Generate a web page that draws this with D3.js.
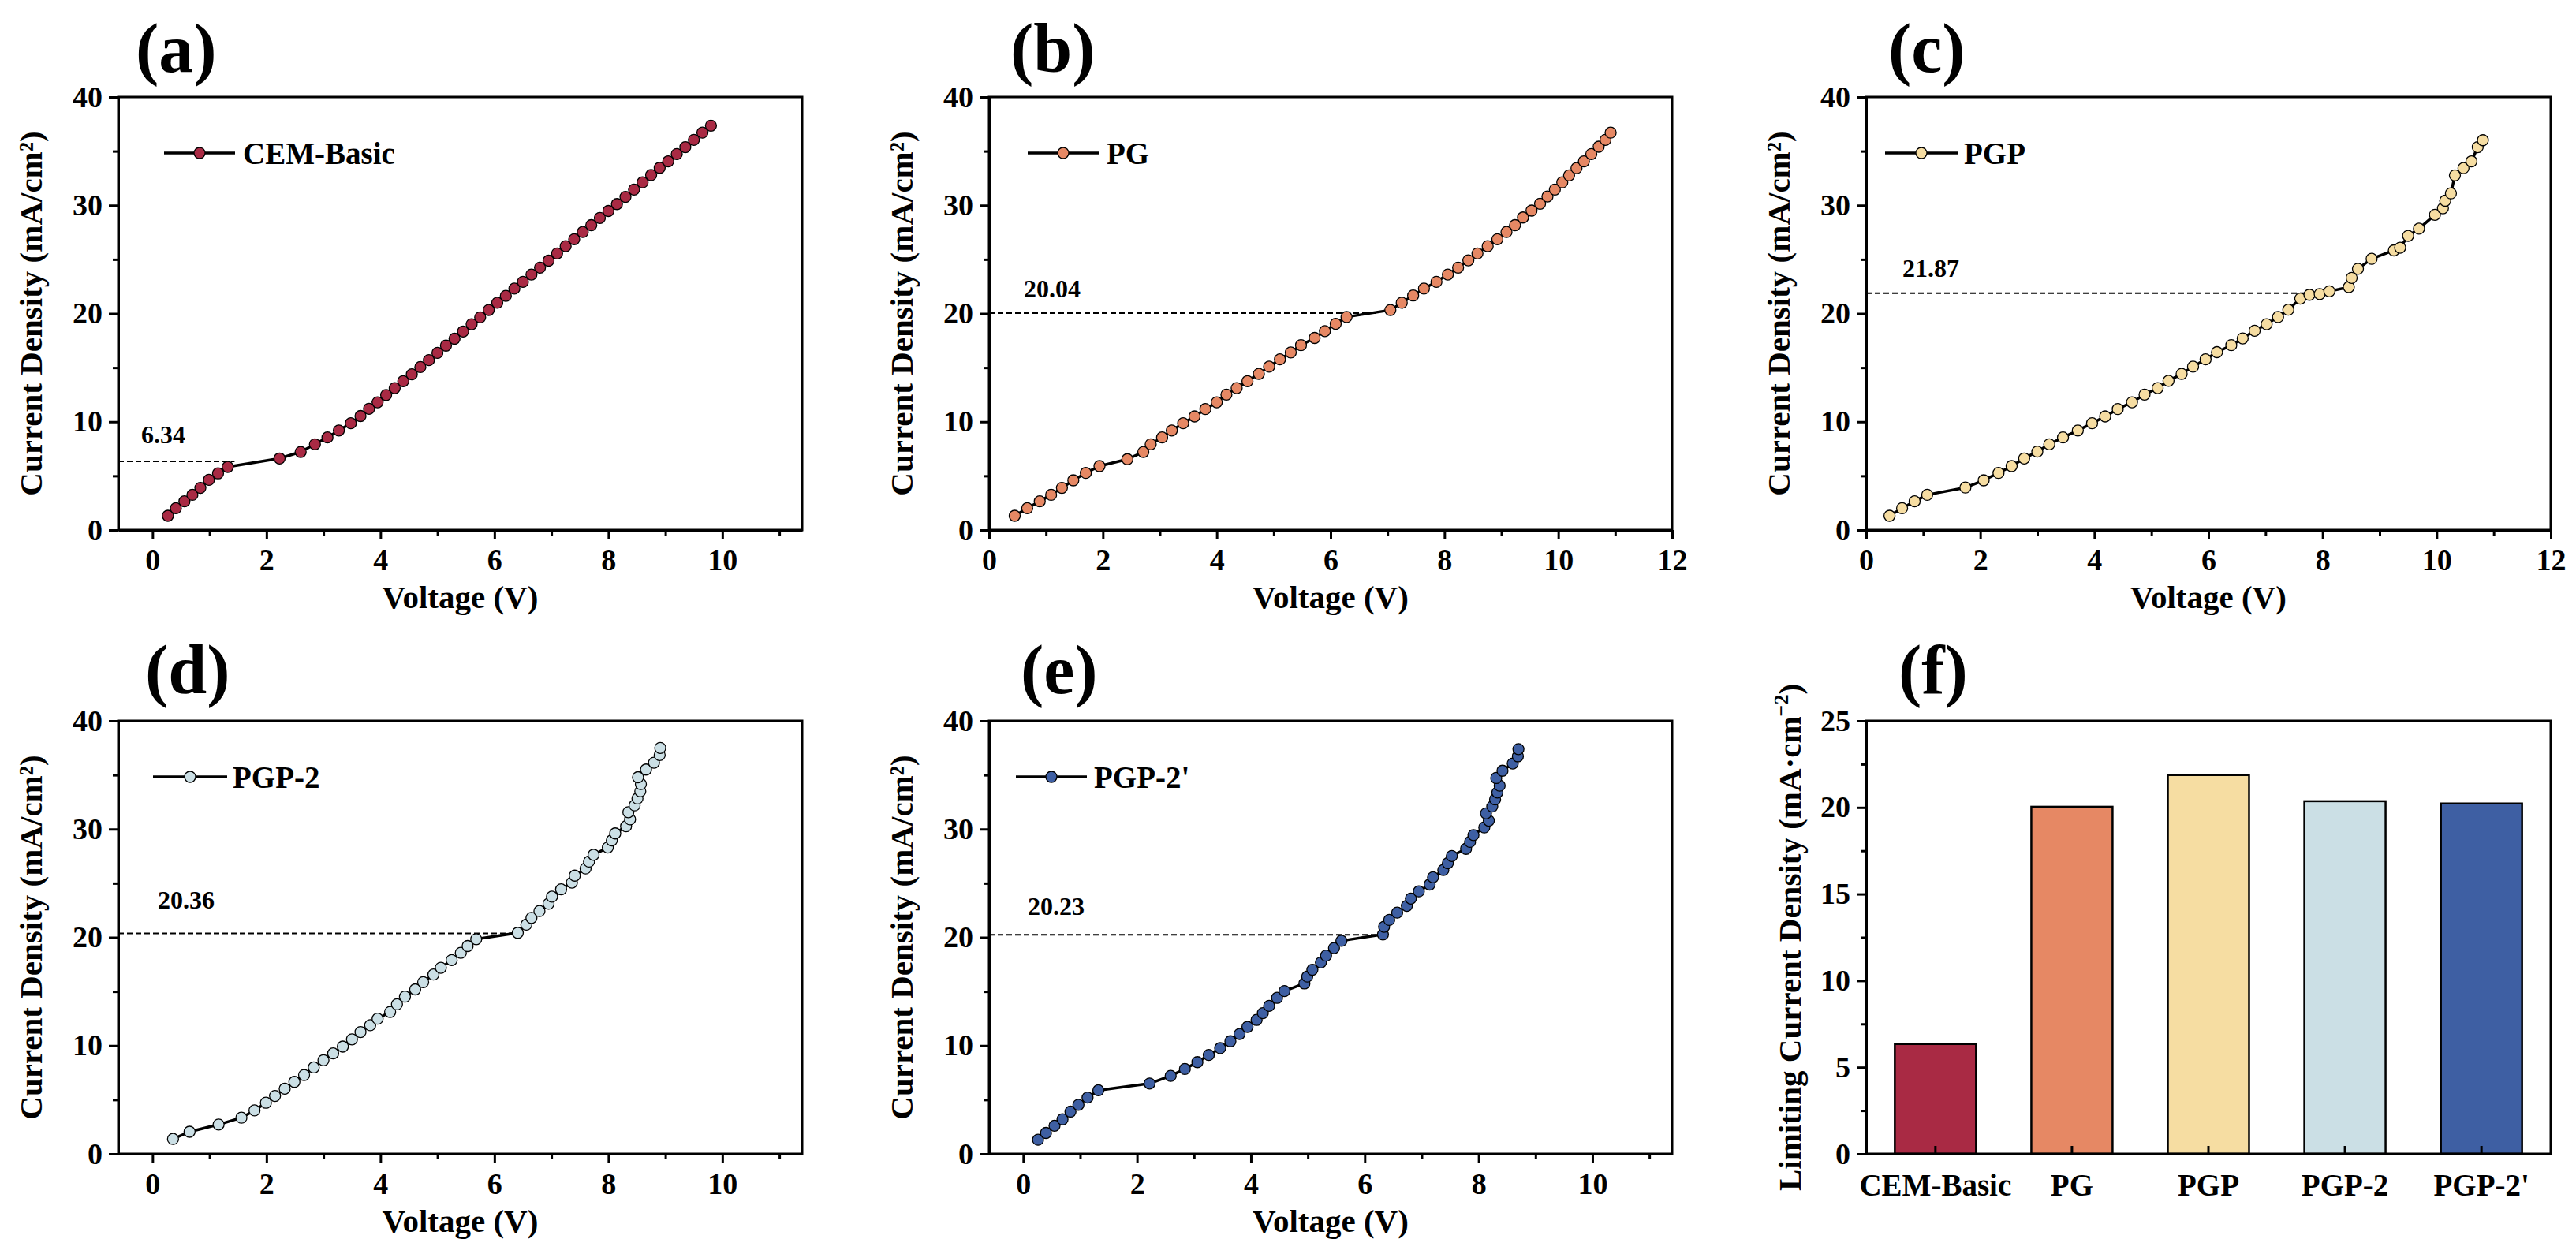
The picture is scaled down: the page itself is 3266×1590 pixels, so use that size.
<!DOCTYPE html>
<html>
<head>
<meta charset="utf-8">
<script src="https://cdn.jsdelivr.net/npm/d3@7"></script>
<style>
  body { margin: 0; background: #fff; }
  svg text { font-family: "Liberation Serif", "Times New Roman", serif; font-weight: bold; }
</style>
</head>
<body>
<div id="chart-area"></div>
<script>
// polarization curves: [voltage (V), current density (mA/cm2)]
const cemBasic = [[0.27,1.31],[0.41,2.01],[0.56,2.65],[0.70,3.25],[0.84,3.89],[0.99,4.63],[1.15,5.23],[1.32,5.83],
  [2.23,6.61],[2.60,7.21],[2.85,7.92],[3.07,8.55],[3.27,9.19],[3.48,9.86],[3.65,10.53],[3.80,11.20],[3.95,11.80],
  [4.10,12.47],[4.25,13.11],[4.40,13.75],[4.55,14.38],[4.70,15.05],[4.85,15.69],[5.00,16.36],[5.15,17.03],[5.30,17.67],
  [5.45,18.34],[5.60,19.01],[5.75,19.65],[5.90,20.32],[6.05,20.99],[6.20,21.63],[6.35,22.30],[6.50,22.93],[6.65,23.60],
  [6.80,24.24],[6.95,24.88],[7.10,25.55],[7.25,26.22],[7.40,26.86],[7.55,27.53],[7.70,28.16],[7.85,28.83],[8.00,29.47],
  [8.15,30.11],[8.30,30.78],[8.45,31.45],[8.60,32.12],[8.75,32.79],[8.90,33.46],[9.05,34.06],[9.20,34.73],[9.35,35.37],
  [9.50,36.04],[9.65,36.71],[9.80,37.35]];

const pg = [[0.45,1.31],[0.67,2.01],[0.89,2.65],[1.09,3.25],[1.28,3.89],[1.48,4.59],[1.70,5.27],[1.94,5.90],[2.43,6.54],
  [2.71,7.21],[2.84,7.92],[3.04,8.55],[3.21,9.19],[3.41,9.86],[3.61,10.49],[3.80,11.17],[4.00,11.80],[4.17,12.51],
  [4.35,13.11],[4.54,13.75],[4.74,14.42],[4.92,15.09],[5.11,15.76],[5.30,16.40],[5.48,17.07],[5.72,17.74],[5.90,18.37],
  [6.09,19.05],[6.28,19.68],[7.05,20.32],[7.25,20.99],[7.45,21.66],[7.64,22.30],[7.86,22.93],[8.06,23.60],[8.24,24.24],
  [8.42,24.91],[8.58,25.55],[8.76,26.22],[8.93,26.86],[9.09,27.53],[9.24,28.16],[9.38,28.87],[9.53,29.51],[9.68,30.14],
  [9.81,30.81],[9.94,31.45],[10.07,32.12],[10.19,32.76],[10.32,33.43],[10.45,34.06],[10.58,34.73],[10.71,35.41],
  [10.83,36.04],[10.92,36.71]];

const pgp = [[0.41,1.31],[0.63,2.01],[0.85,2.65],[1.07,3.25],[1.74,3.92],[2.06,4.59],[2.32,5.27],[2.55,5.90],[2.77,6.61],
  [3.00,7.24],[3.21,7.92],[3.45,8.55],[3.71,9.19],[3.96,9.86],[4.19,10.49],[4.41,11.17],[4.66,11.80],[4.88,12.51],
  [5.11,13.11],[5.30,13.78],[5.53,14.42],[5.73,15.09],[5.95,15.76],[6.15,16.43],[6.40,17.07],[6.60,17.70],[6.81,18.41],
  [7.02,19.01],[7.22,19.68],[7.40,20.35],[7.61,21.38],[7.77,21.73],[7.95,21.80],[8.12,22.05],[8.46,22.44],[8.51,23.29],
  [8.62,24.13],[8.86,25.05],[9.25,25.83],[9.36,26.08],[9.50,27.17],[9.69,27.84],[9.97,29.12],[10.11,29.72],[10.15,30.42],
  [10.25,31.10],[10.32,32.76],[10.47,33.43],[10.61,34.06],[10.72,35.37],[10.81,36.01]];

const pgp2 = [[0.36,1.37],[0.65,2.04],[1.16,2.71],[1.56,3.34],[1.79,4.01],[1.99,4.72],[2.15,5.35],[2.32,6.02],[2.49,6.65],
  [2.66,7.28],[2.83,7.98],[3.00,8.65],[3.17,9.28],[3.34,9.91],[3.50,10.58],[3.65,11.25],[3.82,11.88],[3.95,12.48],
  [4.17,13.11],[4.29,13.81],[4.43,14.52],[4.61,15.19],[4.75,15.86],[4.93,16.56],[5.06,17.19],[5.25,17.90],[5.41,18.57],
  [5.53,19.20],[5.68,19.83],[6.41,20.42],[6.56,21.17],[6.65,21.80],[6.79,22.43],[6.95,23.10],[7.01,23.76],[7.17,24.43],
  [7.36,25.06],[7.41,25.70],[7.60,26.36],[7.66,27.00],[7.74,27.63],[7.99,28.30],[8.06,28.96],[8.12,29.60],[8.31,30.26],
  [8.38,30.90],[8.35,31.56],[8.46,32.19],[8.51,32.83],[8.56,33.49],[8.57,34.16],[8.52,34.79],[8.66,35.50],[8.80,36.13],
  [8.90,36.84],[8.91,37.50]];

const pgp2b = [[0.26,1.30],[0.40,1.93],[0.55,2.60],[0.69,3.19],[0.83,3.90],[0.97,4.53],[1.13,5.20],[1.32,5.87],[2.22,6.50],
  [2.59,7.20],[2.84,7.84],[3.06,8.47],[3.26,9.13],[3.46,9.77],[3.64,10.40],[3.80,11.07],[3.94,11.73],[4.10,12.37],
  [4.21,13.00],[4.32,13.67],[4.46,14.41],[4.59,15.04],[4.94,15.74],[4.99,16.38],[5.08,17.01],[5.23,17.68],[5.32,18.31],
  [5.46,19.01],[5.59,19.68],[6.32,20.27],[6.34,20.98],[6.43,21.61],[6.57,22.28],[6.74,22.91],[6.81,23.58],[6.95,24.25],
  [7.14,24.88],[7.20,25.55],[7.38,26.22],[7.46,26.85],[7.53,27.52],[7.78,28.18],[7.85,28.82],[7.91,29.45],[8.10,30.15],
  [8.18,30.78],[8.13,31.45],[8.24,32.09],[8.29,32.75],[8.33,33.38],[8.37,34.01],[8.31,34.72],[8.42,35.39],[8.60,36.06],
  [8.69,36.72],[8.70,37.39]];

const seriesNames = ['CEM-Basic', 'PG', 'PGP', 'PGP-2', "PGP-2'"];
const seriesData = [cemBasic, pg, pgp, pgp2, pgp2b];
const limitValues = [6.34, 20.04, 21.87, 20.36, 20.23];   // limiting current density
const limitLabels = ['6.34', '20.04', '21.87', '20.36', '20.23'];
const limitVoltages = [1.44, 6.83, 7.73, 6.46, 6.27];      // where the dashed guide stops
const colors = ['#A92A44', '#E68864', '#F6DDA2', '#CBDFE5', '#3E5FA3'];
const currentTicks = [0, 10, 20, 30, 40];
const barTicks = [0, 5, 10, 15, 20, 25];

const widthSvg = 3266;
const heightSvg = 1590;
const cols = [{ left: 150, right: 1017 }, { left: 1254, right: 2120 }, { left: 2366, right: 3234 }];
const rows = [{ top: 123, bottom: 672 }, { top: 914, bottom: 1463 }];

// layout of the five curve panels
const panels = [
  { letter: '(a)', col: 0, row: 0, xDomain: [-0.6, 11.4], letterX: 172, leg: [58, 148, 158], ann: [29, -23] },
  { letter: '(b)', col: 1, row: 0, xDomain: [0, 12], letterX: 1281, leg: [49, 139, 149], ann: [44, -20] },
  { letter: '(c)', col: 2, row: 0, xDomain: [0, 12], letterX: 2394, leg: [24, 116, 124], ann: [46, -21] },
  { letter: '(d)', col: 0, row: 1, xDomain: [-0.6, 11.4], letterX: 184, leg: [44, 138, 145], ann: [50, -32] },
  { letter: '(e)', col: 1, row: 1, xDomain: [-0.6, 11.4], letterX: 1294, leg: [34, 124, 133], ann: [49, -25] }
];
const letterBaselines = [91, 879];

const tickFont = 38;
const titleFont = 41;

const svg = d3.select('#chart-area')
  .append('svg')
    .attr('width', widthSvg)
    .attr('height', heightSvg);

svg.append('rect')
  .attr('width', widthSvg)
  .attr('height', heightSvg)
  .attr('fill', '#fff');

const styleAxis = (g) => {
  g.attr('font-family', null).attr('font-size', null);
  g.select('.domain').attr('stroke-width', 3);
  g.selectAll('.tick line').attr('stroke-width', 3);
  g.selectAll('text').attr('font-size', tickFont).attr('fill', '#000');
};

const drawFrame = (col, row) => {
  svg.append('rect')
    .attr('x', col.left)
    .attr('y', row.top)
    .attr('width', col.right - col.left)
    .attr('height', row.bottom - row.top)
    .attr('fill', 'none')
    .attr('stroke', '#000')
    .attr('stroke-width', 3);
};

const drawLetter = (text, x, row) => {
  svg.append('text')
    .attr('x', x)
    .attr('y', letterBaselines[row])
    .attr('font-size', 88)
    .text(text);
};

const drawYTitle = (x, row, build) => {
  const t = svg.append('text')
    .attr('transform', `translate(${x}, ${(rows[row].top + rows[row].bottom) / 2}) rotate(-90)`)
    .attr('text-anchor', 'middle')
    .attr('font-size', titleFont);
  build(t);
};

panels.forEach((p, i) => {
  const col = cols[p.col];
  const row = rows[p.row];
  const data = seriesData[i];

  const scaleX = d3.scaleLinear().domain(p.xDomain).range([col.left, col.right]);
  const scaleY = d3.scaleLinear().domain([0, 40]).range([row.bottom, row.top]);

  const majorX = d3.range(0, 13, 2).filter(v => v >= p.xDomain[0] && v <= p.xDomain[1]);
  const minorX = d3.range(1, 13, 2).filter(v => v >= p.xDomain[0] && v <= p.xDomain[1]);

  drawFrame(col, row);

  // minor ticks
  svg.append('g')
    .attr('transform', `translate(0, ${row.bottom})`)
    .call(d3.axisBottom(scaleX).tickValues(minorX).tickSize(7).tickFormat(''))
    .call(g => { g.select('.domain').remove(); g.selectAll('line').attr('stroke-width', 3); });
  svg.append('g')
    .attr('transform', `translate(${col.left}, 0)`)
    .call(d3.axisLeft(scaleY).tickValues([5, 15, 25, 35]).tickSize(7).tickFormat(''))
    .call(g => { g.select('.domain').remove(); g.selectAll('line').attr('stroke-width', 3); });

  svg.append('g')
    .attr('transform', `translate(0, ${row.bottom})`)
    .call(d3.axisBottom(scaleX).tickValues(majorX).tickSize(12).tickSizeOuter(0).tickPadding(12))
    .call(styleAxis);

  svg.append('g')
    .attr('transform', `translate(${col.left}, 0)`)
    .call(d3.axisLeft(scaleY).tickValues(currentTicks).tickSize(12).tickSizeOuter(0).tickPadding(8))
    .call(styleAxis);

  // limiting current guide
  svg.append('line')
    .attr('x1', scaleX(p.xDomain[0]))
    .attr('x2', scaleX(limitVoltages[i]))
    .attr('y1', scaleY(limitValues[i]))
    .attr('y2', scaleY(limitValues[i]))
    .attr('stroke', '#000')
    .attr('stroke-width', 2)
    .attr('stroke-dasharray', '7,4');

  svg.append('text')
    .attr('x', col.left + p.ann[0])
    .attr('y', scaleY(limitValues[i]) + p.ann[1])
    .attr('font-size', 32)
    .text(limitLabels[i]);

  const line = d3.line()
    .x(d => scaleX(d[0]))
    .y(d => scaleY(d[1]));

  svg.append('path')
    .datum(data)
    .attr('d', line)
    .attr('fill', 'none')
    .attr('stroke', '#000')
    .attr('stroke-width', 3.5)
    .attr('stroke-linejoin', 'round');

  svg.append('g')
    .selectAll('circle')
    .data(data)
    .enter()
    .append('circle')
      .attr('cx', d => scaleX(d[0]))
      .attr('cy', d => scaleY(d[1]))
      .attr('r', 7)
      .attr('fill', colors[i])
      .attr('stroke', '#000')
      .attr('stroke-width', 1.3);

  // legend
  const ly = row.top + 71;
  svg.append('line')
    .attr('x1', col.left + p.leg[0])
    .attr('x2', col.left + p.leg[1])
    .attr('y1', ly)
    .attr('y2', ly)
    .attr('stroke', '#000')
    .attr('stroke-width', 3.5);
  svg.append('circle')
    .attr('cx', col.left + (p.leg[0] + p.leg[1]) / 2)
    .attr('cy', ly)
    .attr('r', 7)
    .attr('fill', colors[i])
    .attr('stroke', '#000')
    .attr('stroke-width', 1.3);
  svg.append('text')
    .attr('x', col.left + p.leg[2])
    .attr('y', ly + 14)
    .attr('font-size', 39)
    .text(seriesNames[i]);

  // titles
  svg.append('text')
    .attr('x', (col.left + col.right) / 2)
    .attr('y', row.bottom + 99)
    .attr('text-anchor', 'middle')
    .attr('font-size', titleFont)
    .text('Voltage (V)');

  drawYTitle(col.left - 97, p.row, t => t.text('Current Density (mA/cm\u00B2)'));

  drawLetter(p.letter, p.letterX, p.row);
});

// (f) limiting current density bars
(() => {
  const col = cols[2];
  const row = rows[1];

  const scaleX = d3.scaleBand()
    .domain(seriesNames)
    .range([col.left, col.right])
    .paddingInner(0.405)
    .paddingOuter(0.21);

  const scaleY = d3.scaleLinear().domain([0, 25]).range([row.bottom, row.top]);

  svg.append('g')
    .selectAll('rect')
    .data(limitValues)
    .enter()
    .append('rect')
      .attr('x', (d, i) => scaleX(seriesNames[i]))
      .attr('y', d => scaleY(d))
      .attr('width', scaleX.bandwidth())
      .attr('height', d => scaleY(0) - scaleY(d))
      .attr('fill', (d, i) => colors[i])
      .attr('stroke', '#000')
      .attr('stroke-width', 2.5);

  drawFrame(col, row);

  svg.append('g')
    .attr('transform', `translate(${col.left}, 0)`)
    .call(d3.axisLeft(scaleY).tickValues([2.5, 7.5, 12.5, 17.5, 22.5]).tickSize(7).tickFormat(''))
    .call(g => { g.select('.domain').remove(); g.selectAll('line').attr('stroke-width', 3); });

  svg.append('g')
    .attr('transform', `translate(${col.left}, 0)`)
    .call(d3.axisLeft(scaleY).tickValues(barTicks).tickSize(12).tickSizeOuter(0).tickPadding(8))
    .call(styleAxis);

  svg.append('g')
    .attr('transform', `translate(0, ${row.bottom})`)
    .call(d3.axisBottom(scaleX).tickSize(-10).tickSizeOuter(0).tickPadding(25))
    .call(styleAxis)
    .call(g => g.selectAll('text').attr('font-size', 39));

  drawYTitle(col.left - 83, 1, t => {
    t.append('tspan').text('Limiting Current Density (mA\u00B7cm');
    t.append('tspan').attr('font-size', 26).attr('dy', -16).text('\u22122');
    t.append('tspan').attr('dy', 16).text(')');
  });

  drawLetter('(f)', 2407, 1);
})();
</script>
</body>
</html>
